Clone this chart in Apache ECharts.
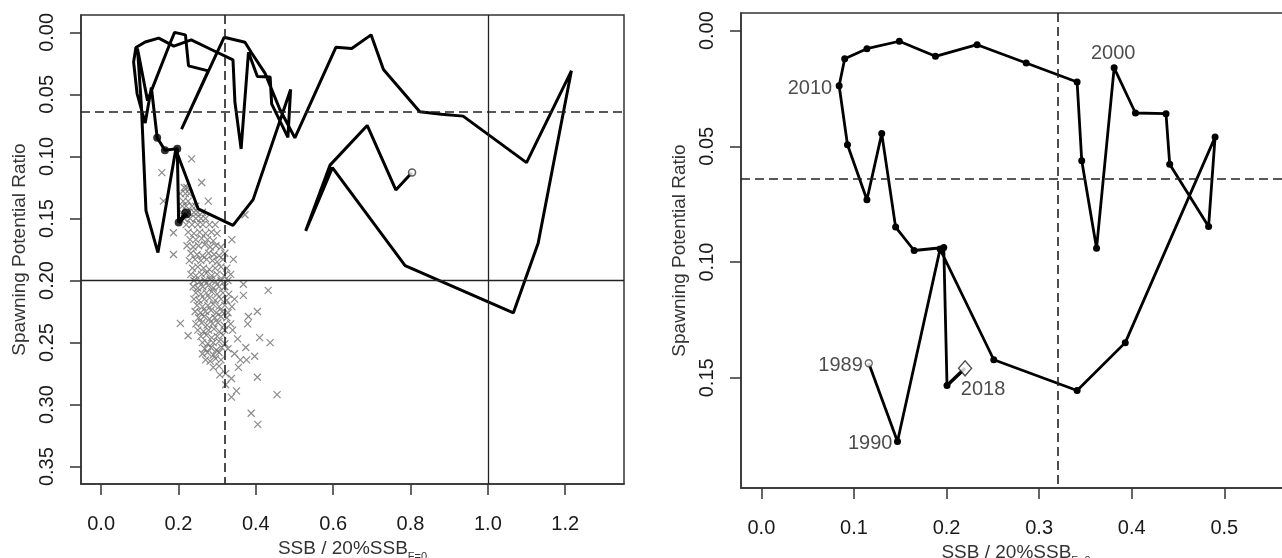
<!DOCTYPE html>
<html><head><meta charset="utf-8">
<script src="https://cdn.jsdelivr.net/npm/echarts@6/dist/echarts.min.js"></script>
<style>html,body{margin:0;padding:0;background:#fff}#c{width:1282px;height:558px}</style>
</head><body><div id="c"></div>
<script>
// ---- data ----
const recentYears = [1989,1990,1991,1992,1993,1994,1995,1996,1997,1998,1999,2000,2001,2002,2003,2004,2005,2006,2007,2008,2009,2010,2011,2012,2013,2014,2015,2016,2017,2018];
const recentSSB = [0.116,0.147,0.193,0.251,0.341,0.393,0.490,0.483,0.441,0.437,0.404,0.381,0.362,0.346,0.341,0.286,0.233,0.188,0.149,0.114,0.090,0.084,0.093,0.114,0.130,0.145,0.165,0.197,0.2005,0.220];
const recentSPR = [0.1437,0.1775,0.0944,0.1422,0.1555,0.1348,0.046,0.0846,0.0577,0.0359,0.0356,0.0161,0.0940,0.0562,0.0222,0.0140,0.0061,0.0111,0.0046,0.0078,0.0122,0.0238,0.0493,0.0731,0.0445,0.0849,0.0950,0.0937,0.1533,0.1459];
const earlySSB = [0.804,0.762,0.688,0.592,0.529,0.598,0.786,1.066,1.130,1.216,1.100,0.936,0.880,0.824,0.730,0.698,0.648,0.607,0.501,0.462,0.424,0.388,0.372,0.318,0.208,0.277,0.226,0.218,0.190,0.178,0.120,0.094,0.104];
const earlySPR = [0.113,0.127,0.075,0.107,0.160,0.109,0.188,0.226,0.170,0.031,0.105,0.0675,0.066,0.064,0.030,0.002,0.013,0.012,0.085,0.062,0.033,0.016,0.008,0.004,0.078,0.031,0.027,0.002,0.000,0.009,0.055,0.013,0.058];
const cloudPoints = [
[0.157,0.113],[0.234,0.102],[0.26,0.121],[0.215,0.125],[0.222,0.125],[0.205,0.13],[0.218,0.13],[0.228,0.13],
[0.161,0.136],[0.212,0.136],[0.225,0.136],[0.277,0.136],[0.21,0.14],[0.22,0.14],[0.235,0.14],[0.245,0.14],
[0.208,0.145],[0.225,0.145],[0.24,0.145],[0.25,0.145],[0.262,0.145],[0.372,0.147],
[0.215,0.15],[0.23,0.15],[0.245,0.15],[0.258,0.15],[0.27,0.15],[0.22,0.155],[0.235,0.155],[0.25,0.155],[0.263,0.155],[0.28,0.155],[0.295,0.155],
[0.187,0.1615],[0.225,0.161],[0.24,0.162],[0.255,0.161],[0.27,0.162],[0.285,0.161],[0.3,0.162],
[0.23,0.167],[0.245,0.167],[0.26,0.166],[0.275,0.167],[0.29,0.168],[0.338,0.167],
[0.222,0.172],[0.238,0.173],[0.252,0.172],[0.268,0.171],[0.282,0.173],[0.297,0.172],[0.31,0.173],
[0.187,0.179],[0.232,0.178],[0.248,0.179],[0.262,0.18],[0.278,0.178],[0.292,0.179],[0.305,0.18],[0.32,0.178],
[0.228,0.184],[0.243,0.183],[0.258,0.184],[0.273,0.183],[0.288,0.184],[0.3,0.185],[0.315,0.183],[0.342,0.183],
[0.236,0.19],[0.25,0.189],[0.265,0.19],[0.28,0.191],[0.295,0.19],[0.31,0.189],[0.325,0.19],
[0.232,0.195],[0.245,0.196],[0.26,0.195],[0.272,0.194],[0.286,0.196],[0.3,0.195],[0.318,0.196],[0.335,0.195],
[0.24,0.2],[0.255,0.201],[0.268,0.2],[0.282,0.199],[0.296,0.201],[0.31,0.2],[0.328,0.2],
[0.238,0.205],[0.25,0.206],[0.263,0.205],[0.277,0.204],[0.29,0.206],[0.305,0.205],[0.32,0.205],[0.368,0.203],
[0.432,0.208],[0.368,0.212],
[0.245,0.21],[0.258,0.211],[0.272,0.21],[0.286,0.209],[0.3,0.211],[0.315,0.21],[0.33,0.211],
[0.24,0.215],[0.253,0.216],[0.267,0.215],[0.28,0.214],[0.295,0.216],[0.31,0.215],[0.325,0.216],[0.345,0.215],
[0.248,0.22],[0.262,0.221],[0.276,0.22],[0.29,0.219],[0.305,0.221],[0.32,0.22],[0.338,0.221],
[0.243,0.225],[0.257,0.226],[0.27,0.225],[0.284,0.224],[0.298,0.226],[0.313,0.225],[0.328,0.226],[0.404,0.225],
[0.381,0.229],[0.252,0.23],[0.266,0.229],[0.28,0.231],[0.294,0.23],[0.31,0.229],[0.325,0.23],
[0.205,0.2345],[0.245,0.235],[0.26,0.234],[0.274,0.236],[0.288,0.235],[0.302,0.234],[0.318,0.236],[0.335,0.235],[0.379,0.235],
[0.25,0.24],[0.265,0.241],[0.278,0.24],[0.292,0.239],[0.306,0.241],[0.32,0.24],[0.34,0.24],
[0.225,0.2445],[0.258,0.245],[0.272,0.244],[0.286,0.246],[0.3,0.245],[0.315,0.244],[0.353,0.247],[0.41,0.246],
[0.262,0.25],[0.276,0.251],[0.29,0.25],[0.305,0.249],[0.32,0.251],[0.437,0.25],
[0.374,0.254],[0.268,0.255],[0.284,0.254],[0.298,0.256],[0.312,0.254],[0.328,0.255],
[0.262,0.259],[0.275,0.258],[0.29,0.26],[0.305,0.258],[0.345,0.259],[0.397,0.261],
[0.27,0.264],[0.282,0.265],[0.296,0.263],[0.31,0.264],[0.36,0.264],[0.376,0.264],
[0.29,0.27],[0.305,0.269],[0.355,0.27],
[0.307,0.276],[0.322,0.275],[0.404,0.278],[0.337,0.279],[0.322,0.284],[0.35,0.289],[0.337,0.294],[0.455,0.292],[0.388,0.307],[0.405,0.316]
];
const leftXTicks = [0,0.2,0.4,0.6,0.8,1.0,1.2];
const leftYTicks = [0,0.05,0.10,0.15,0.20,0.25,0.30,0.35];
const rightXTicks = [0,0.1,0.2,0.3,0.4,0.5];
const rightYTicks = [0,0.05,0.10,0.15];
const targetSSB = 0.32, targetSPR = 0.064, limitSSB = 1.0, limitSPR = 0.2;
const labeledYears = [1989,1990,2000,2010,2018];
const dottedLastYears = 5;

// ---- build ----
const FONT = 'Liberation Sans, Arial, sans-serif';
const INK = '#1a1a1a';
const pairs = (xs, ys) => xs.map((x, i) => [x, ys[i]]);
const leftLine = pairs(earlySSB.concat(recentSSB), earlySPR.concat(recentSPR));
const recentPts = pairs(recentSSB, recentSPR);
const n = recentPts.length;

const labelStyle = {
  1989: {position: 'left', distance: 4, offset: [-2, 2]},
  1990: {position: 'left', distance: 5, offset: [0, 2]},
  2000: {position: 'top', distance: 5, offset: [-1, 1]},
  2010: {position: 'left', distance: 5, offset: [-2, 3]},
  2018: {position: 'bottom', distance: 3, offset: [18, 8]}
};
const labelData = labeledYears.map(y => {
  const i = recentYears.indexOf(y);
  return {value: [recentSSB[i], recentSPR[i]], label: Object.assign({show: true, formatter: String(y)}, labelStyle[y])};
});

function xAxis(gi, min, max, ticks, gap) {
  return {type: 'value', gridIndex: gi, min, max, splitLine: {show: false},
    axisLine: {show: true, onZero: false, lineStyle: {color: '#333', width: 1.5}},
    axisTick: {show: true, customValues: ticks, length: 11, lineStyle: {color: '#333', width: 1.5}},
    axisLabel: {customValues: ticks, formatter: v => v.toFixed(1), margin: 30, fontSize: 20, color: INK, fontFamily: FONT},
    name: '{a|SSB / 20%SSB}{b|F=0}', nameLocation: 'middle', nameGap: gap,
    nameTextStyle: {rich: {a: {fontSize: 19, color: '#333', fontFamily: FONT, padding: [0, 0, 5, 0]},
      b: {fontSize: 11, color: '#333', fontFamily: FONT, verticalAlign: 'bottom'}}}};
}
function yAxis(gi, min, max, ticks) {
  return {type: 'value', gridIndex: gi, inverse: true, min, max, splitLine: {show: false},
    axisLine: {show: true, onZero: false, lineStyle: {color: '#333', width: 1.5}},
    axisTick: {show: true, customValues: ticks, length: 11, lineStyle: {color: '#333', width: 1.5}},
    axisLabel: {customValues: ticks, formatter: v => v.toFixed(2), rotate: 90, margin: 24, fontSize: 20, color: INK, fontFamily: FONT},
    name: 'Spawning Potential Ratio', nameLocation: 'middle', nameGap: 52,
    nameTextStyle: {fontSize: 19, color: '#333', fontFamily: FONT}};
}
const dash = {color: '#222', width: 1.6, type: [9, 5]};
const solid = {color: '#222', width: 1.3, type: 'solid'};

const option = {
  animation: false,
  backgroundColor: '#fff',
  grid: [
    {left: 81, top: 15, width: 543, height: 469, show: true, borderColor: '#333', borderWidth: 1.5, outerBoundsMode: 'none', containLabel: false},
    {left: 741, top: 13, width: 550, height: 475, show: true, borderColor: '#333', borderWidth: 1.5, outerBoundsMode: 'none', containLabel: false}
  ],
  xAxis: [xAxis(0, -0.052, 1.352, leftXTicks, 39), xAxis(1, -0.022, 0.572, rightXTicks, 44)],
  yAxis: [yAxis(0, -0.014, 0.364, leftYTicks), yAxis(1, -0.0076, 0.1976, rightYTicks)],
  series: [
    {type: 'scatter', xAxisIndex: 0, yAxisIndex: 0, data: cloudPoints, symbol: 'path://M0 0L10 10M10 0L0 10', symbolSize: 7,
      itemStyle: {color: 'rgba(0,0,0,0)', borderColor: '#6e6e6e', borderWidth: 1.2}, z: 1},
    {type: 'line', xAxisIndex: 0, yAxisIndex: 0, data: leftLine, showSymbol: false, lineStyle: {color: '#000', width: 3}, z: 3,
      markLine: {silent: true, symbol: 'none', precision: 4, label: {show: false},
        data: [{xAxis: targetSSB, lineStyle: dash}, {yAxis: targetSPR, lineStyle: dash}, {xAxis: limitSSB, lineStyle: solid}, {yAxis: limitSPR, lineStyle: solid}]}},
    {type: 'line', xAxisIndex: 0, yAxisIndex: 0, data: recentPts.slice(n - 2), showSymbol: false, lineStyle: {color: '#000', width: 4.5}, z: 4},
    {type: 'scatter', xAxisIndex: 0, yAxisIndex: 0, data: recentPts.slice(n - dottedLastYears, n - 1), symbolSize: 8, itemStyle: {color: '#000'}, z: 5},
    {type: 'scatter', xAxisIndex: 0, yAxisIndex: 0, data: recentPts.slice(n - 1), symbolSize: 10, itemStyle: {color: '#000'}, z: 5},
    {type: 'scatter', xAxisIndex: 0, yAxisIndex: 0, data: [[earlySSB[0], earlySPR[0]]], symbolSize: 7, itemStyle: {color: '#fff', borderColor: '#333', borderWidth: 1.5}, z: 6},

    {type: 'line', xAxisIndex: 1, yAxisIndex: 1, data: recentPts.slice(1, n - 1), symbol: 'circle', symbolSize: 7, showSymbol: true,
      itemStyle: {color: '#000'}, lineStyle: {color: '#000', width: 2.8}, z: 3,
      markLine: {silent: true, symbol: 'none', precision: 4, label: {show: false},
        data: [{xAxis: targetSSB, lineStyle: dash}, {yAxis: targetSPR, lineStyle: dash}]}},
    {type: 'line', xAxisIndex: 1, yAxisIndex: 1, data: recentPts.slice(0, 2), showSymbol: false, lineStyle: {color: '#000', width: 2.8}, z: 3},
    {type: 'line', xAxisIndex: 1, yAxisIndex: 1, data: recentPts.slice(n - 2), showSymbol: false, lineStyle: {color: '#000', width: 3.5}, z: 3},
    {type: 'scatter', xAxisIndex: 1, yAxisIndex: 1, data: [recentPts[0]], symbolSize: 7, itemStyle: {color: '#fff', borderColor: '#444', borderWidth: 1.3}, z: 6},
    {type: 'scatter', xAxisIndex: 1, yAxisIndex: 1, data: [recentPts[n - 1]], symbol: 'diamond', symbolSize: [13, 15], itemStyle: {color: '#fff', borderColor: '#222', borderWidth: 1.4}, z: 6},
    {type: 'scatter', xAxisIndex: 1, yAxisIndex: 1, data: labelData, symbolSize: 0, z: 7,
      label: {fontSize: 20, color: '#1e1e1e', fontFamily: FONT}}
  ]
};
echarts.init(document.getElementById('c'), null, {renderer: 'canvas'}).setOption(option);
</script></body></html>
